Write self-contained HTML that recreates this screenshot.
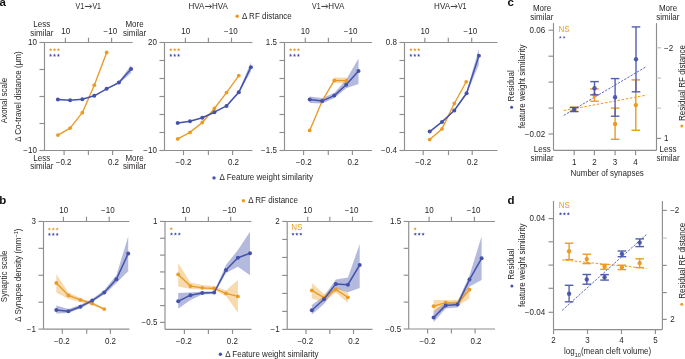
<!DOCTYPE html>
<html><head><meta charset="utf-8"><style>
html,body{margin:0;padding:0;background:#fff;overflow:hidden;}
svg{display:block;font-family:"Liberation Sans",sans-serif;will-change:transform;}
</style></head><body>
<svg width="685" height="359" viewBox="0 0 685 359">
<rect width="685" height="359" fill="#fff"/>
<text transform="translate(-0.5,6.1) scale(1.15,1)" font-size="10" font-weight="bold" fill="#111">a</text>
<text transform="translate(-0.7,204.2) scale(1.15,1)" font-size="10" font-weight="bold" fill="#111">b</text>
<text transform="translate(507.4,6.1) scale(1.15,1)" font-size="10" font-weight="bold" fill="#111">c</text>
<text transform="translate(507.5,204.3) scale(1.15,1)" font-size="10" font-weight="bold" fill="#111">d</text>
<text transform="translate(84.10,8.70) scale(1,1.02)" text-anchor="end" font-size="8.0" fill="#231f20" textLength="8.5" lengthAdjust="spacingAndGlyphs">V1</text>
<text transform="translate(92.40,8.70) scale(1,1.02)" text-anchor="start" font-size="8.0" fill="#231f20" textLength="8.5" lengthAdjust="spacingAndGlyphs">V1</text>
<line x1="84.90" y1="6.45" x2="91.30" y2="6.45" stroke="#231f20" stroke-width="0.9"/>
<path d="M89.80,4.45 L91.70,6.45 L89.80,8.45" fill="none" stroke="#231f20" stroke-width="0.75" stroke-linejoin="miter"/>
<text transform="translate(204.40,8.70) scale(1,1.02)" text-anchor="end" font-size="8.0" fill="#231f20" textLength="15.9" lengthAdjust="spacingAndGlyphs">HVA</text>
<text transform="translate(212.06,8.70) scale(1,1.02)" text-anchor="start" font-size="8.0" fill="#231f20" textLength="15.9" lengthAdjust="spacingAndGlyphs">HVA</text>
<line x1="205.10" y1="6.45" x2="211.20" y2="6.45" stroke="#231f20" stroke-width="0.9"/>
<path d="M209.70,4.45 L211.60,6.45 L209.70,8.45" fill="none" stroke="#231f20" stroke-width="0.75" stroke-linejoin="miter"/>
<text transform="translate(320.50,8.70) scale(1,1.02)" text-anchor="end" font-size="8.0" fill="#231f20" textLength="8.5" lengthAdjust="spacingAndGlyphs">V1</text>
<text transform="translate(328.36,8.70) scale(1,1.02)" text-anchor="start" font-size="8.0" fill="#231f20" textLength="15.9" lengthAdjust="spacingAndGlyphs">HVA</text>
<line x1="321.30" y1="6.45" x2="327.50" y2="6.45" stroke="#231f20" stroke-width="0.9"/>
<path d="M326.00,4.45 L327.90,6.45 L326.00,8.45" fill="none" stroke="#231f20" stroke-width="0.75" stroke-linejoin="miter"/>
<text transform="translate(450.00,8.70) scale(1,1.02)" text-anchor="end" font-size="8.0" fill="#231f20" textLength="15.9" lengthAdjust="spacingAndGlyphs">HVA</text>
<text transform="translate(457.90,8.70) scale(1,1.02)" text-anchor="start" font-size="8.0" fill="#231f20" textLength="8.5" lengthAdjust="spacingAndGlyphs">V1</text>
<line x1="450.70" y1="6.45" x2="456.80" y2="6.45" stroke="#231f20" stroke-width="0.9"/>
<path d="M455.30,4.45 L457.20,6.45 L455.30,8.45" fill="none" stroke="#231f20" stroke-width="0.75" stroke-linejoin="miter"/>
<circle cx="237.2" cy="16.2" r="1.7" fill="#ea9b24"/>
<text transform="translate(242.00,18.50) scale(1,1.02)" text-anchor="start" font-size="8.0" fill="#231f20" >Δ RF distance</text>
<circle cx="214.0" cy="177.9" r="1.7" fill="#4452aa"/>
<text transform="translate(219.60,180.00) scale(1,1.02)" text-anchor="start" font-size="8.0" fill="#231f20" >Δ Feature weight similarity</text>
<line x1="44.50" y1="42.50" x2="44.50" y2="150.50" stroke="#8f8d8f" stroke-width="1.15" />
<line x1="44.50" y1="42.50" x2="132.60" y2="42.50" stroke="#8f8d8f" stroke-width="1.15" />
<line x1="44.50" y1="150.50" x2="132.60" y2="150.50" stroke="#8f8d8f" stroke-width="1.15" />
<line x1="39.50" y1="42.50" x2="44.50" y2="42.50" stroke="#8f8d8f" stroke-width="1.15" />
<line x1="39.50" y1="69.50" x2="44.50" y2="69.50" stroke="#8f8d8f" stroke-width="1.15" />
<line x1="39.50" y1="96.50" x2="44.50" y2="96.50" stroke="#8f8d8f" stroke-width="1.15" />
<line x1="39.50" y1="123.50" x2="44.50" y2="123.50" stroke="#8f8d8f" stroke-width="1.15" />
<line x1="39.50" y1="150.50" x2="44.50" y2="150.50" stroke="#8f8d8f" stroke-width="1.15" />
<text transform="translate(36.90,45.35) scale(1,1.02)" text-anchor="end" font-size="8.0" fill="#231f20" >10</text>
<text transform="translate(36.90,153.35) scale(1,1.02)" text-anchor="end" font-size="8.0" fill="#231f20" >−10</text>
<line x1="65.40" y1="37.70" x2="65.40" y2="42.50" stroke="#8f8d8f" stroke-width="1.15" />
<line x1="88.50" y1="37.70" x2="88.50" y2="42.50" stroke="#8f8d8f" stroke-width="1.15" />
<line x1="111.60" y1="37.70" x2="111.60" y2="42.50" stroke="#8f8d8f" stroke-width="1.15" />
<line x1="64.10" y1="150.50" x2="64.10" y2="155.10" stroke="#8f8d8f" stroke-width="1.15" />
<line x1="88.40" y1="150.50" x2="88.40" y2="155.10" stroke="#8f8d8f" stroke-width="1.15" />
<line x1="112.60" y1="150.50" x2="112.60" y2="155.10" stroke="#8f8d8f" stroke-width="1.15" />
<text transform="translate(65.70,34.40) scale(1,1.02)" text-anchor="middle" font-size="8.0" fill="#231f20" >10</text>
<text transform="translate(110.40,34.40) scale(1,1.02)" text-anchor="middle" font-size="8.0" fill="#231f20" >−10</text>
<text transform="translate(63.60,164.90) scale(1,1.02)" text-anchor="middle" font-size="8.0" fill="#231f20" >−0.2</text>
<text transform="translate(113.50,164.90) scale(1,1.02)" text-anchor="middle" font-size="8.0" fill="#231f20" >0.2</text>
<line x1="164.50" y1="42.50" x2="164.50" y2="150.50" stroke="#8f8d8f" stroke-width="1.15" />
<line x1="164.50" y1="42.50" x2="252.40" y2="42.50" stroke="#8f8d8f" stroke-width="1.15" />
<line x1="164.50" y1="150.50" x2="252.40" y2="150.50" stroke="#8f8d8f" stroke-width="1.15" />
<line x1="159.50" y1="42.50" x2="164.50" y2="42.50" stroke="#8f8d8f" stroke-width="1.15" />
<line x1="159.50" y1="60.50" x2="164.50" y2="60.50" stroke="#8f8d8f" stroke-width="1.15" />
<line x1="159.50" y1="78.50" x2="164.50" y2="78.50" stroke="#8f8d8f" stroke-width="1.15" />
<line x1="159.50" y1="96.50" x2="164.50" y2="96.50" stroke="#8f8d8f" stroke-width="1.15" />
<line x1="159.50" y1="114.50" x2="164.50" y2="114.50" stroke="#8f8d8f" stroke-width="1.15" />
<line x1="159.50" y1="132.50" x2="164.50" y2="132.50" stroke="#8f8d8f" stroke-width="1.15" />
<line x1="159.50" y1="150.50" x2="164.50" y2="150.50" stroke="#8f8d8f" stroke-width="1.15" />
<text transform="translate(156.90,45.35) scale(1,1.02)" text-anchor="end" font-size="8.0" fill="#231f20" >20</text>
<text transform="translate(156.90,153.35) scale(1,1.02)" text-anchor="end" font-size="8.0" fill="#231f20" >−10</text>
<line x1="185.40" y1="37.70" x2="185.40" y2="42.50" stroke="#8f8d8f" stroke-width="1.15" />
<line x1="208.40" y1="37.70" x2="208.40" y2="42.50" stroke="#8f8d8f" stroke-width="1.15" />
<line x1="231.50" y1="37.70" x2="231.50" y2="42.50" stroke="#8f8d8f" stroke-width="1.15" />
<line x1="183.50" y1="150.50" x2="183.50" y2="155.10" stroke="#8f8d8f" stroke-width="1.15" />
<line x1="208.40" y1="150.50" x2="208.40" y2="155.10" stroke="#8f8d8f" stroke-width="1.15" />
<line x1="232.60" y1="150.50" x2="232.60" y2="155.10" stroke="#8f8d8f" stroke-width="1.15" />
<text transform="translate(185.80,34.40) scale(1,1.02)" text-anchor="middle" font-size="8.0" fill="#231f20" >10</text>
<text transform="translate(230.80,34.40) scale(1,1.02)" text-anchor="middle" font-size="8.0" fill="#231f20" >−10</text>
<text transform="translate(183.50,164.90) scale(1,1.02)" text-anchor="middle" font-size="8.0" fill="#231f20" >−0.2</text>
<text transform="translate(233.50,164.90) scale(1,1.02)" text-anchor="middle" font-size="8.0" fill="#231f20" >0.2</text>
<line x1="284.50" y1="42.50" x2="284.50" y2="150.50" stroke="#8f8d8f" stroke-width="1.15" />
<line x1="284.50" y1="42.50" x2="372.10" y2="42.50" stroke="#8f8d8f" stroke-width="1.15" />
<line x1="284.50" y1="150.50" x2="372.10" y2="150.50" stroke="#8f8d8f" stroke-width="1.15" />
<line x1="279.50" y1="42.50" x2="284.50" y2="42.50" stroke="#8f8d8f" stroke-width="1.15" />
<line x1="279.50" y1="60.50" x2="284.50" y2="60.50" stroke="#8f8d8f" stroke-width="1.15" />
<line x1="279.50" y1="78.50" x2="284.50" y2="78.50" stroke="#8f8d8f" stroke-width="1.15" />
<line x1="279.50" y1="96.50" x2="284.50" y2="96.50" stroke="#8f8d8f" stroke-width="1.15" />
<line x1="279.50" y1="114.50" x2="284.50" y2="114.50" stroke="#8f8d8f" stroke-width="1.15" />
<line x1="279.50" y1="132.50" x2="284.50" y2="132.50" stroke="#8f8d8f" stroke-width="1.15" />
<line x1="279.50" y1="150.50" x2="284.50" y2="150.50" stroke="#8f8d8f" stroke-width="1.15" />
<text transform="translate(276.90,45.35) scale(1,1.02)" text-anchor="end" font-size="8.0" fill="#231f20" >1.5</text>
<text transform="translate(276.90,153.35) scale(1,1.02)" text-anchor="end" font-size="8.0" fill="#231f20" >−1.5</text>
<line x1="305.30" y1="37.70" x2="305.30" y2="42.50" stroke="#8f8d8f" stroke-width="1.15" />
<line x1="328.40" y1="37.70" x2="328.40" y2="42.50" stroke="#8f8d8f" stroke-width="1.15" />
<line x1="351.40" y1="37.70" x2="351.40" y2="42.50" stroke="#8f8d8f" stroke-width="1.15" />
<line x1="303.60" y1="150.50" x2="303.60" y2="155.10" stroke="#8f8d8f" stroke-width="1.15" />
<line x1="328.30" y1="150.50" x2="328.30" y2="155.10" stroke="#8f8d8f" stroke-width="1.15" />
<line x1="352.40" y1="150.50" x2="352.40" y2="155.10" stroke="#8f8d8f" stroke-width="1.15" />
<text transform="translate(305.30,34.40) scale(1,1.02)" text-anchor="middle" font-size="8.0" fill="#231f20" >10</text>
<text transform="translate(350.60,34.40) scale(1,1.02)" text-anchor="middle" font-size="8.0" fill="#231f20" >−10</text>
<text transform="translate(303.70,164.90) scale(1,1.02)" text-anchor="middle" font-size="8.0" fill="#231f20" >−0.2</text>
<text transform="translate(353.10,164.90) scale(1,1.02)" text-anchor="middle" font-size="8.0" fill="#231f20" >0.2</text>
<line x1="404.50" y1="42.50" x2="404.50" y2="150.50" stroke="#8f8d8f" stroke-width="1.15" />
<line x1="404.50" y1="42.50" x2="497.50" y2="42.50" stroke="#8f8d8f" stroke-width="1.15" />
<line x1="404.50" y1="150.50" x2="497.50" y2="150.50" stroke="#8f8d8f" stroke-width="1.15" />
<line x1="399.50" y1="42.50" x2="404.50" y2="42.50" stroke="#8f8d8f" stroke-width="1.15" />
<line x1="399.50" y1="60.50" x2="404.50" y2="60.50" stroke="#8f8d8f" stroke-width="1.15" />
<line x1="399.50" y1="78.50" x2="404.50" y2="78.50" stroke="#8f8d8f" stroke-width="1.15" />
<line x1="399.50" y1="96.50" x2="404.50" y2="96.50" stroke="#8f8d8f" stroke-width="1.15" />
<line x1="399.50" y1="114.50" x2="404.50" y2="114.50" stroke="#8f8d8f" stroke-width="1.15" />
<line x1="399.50" y1="132.50" x2="404.50" y2="132.50" stroke="#8f8d8f" stroke-width="1.15" />
<line x1="399.50" y1="150.50" x2="404.50" y2="150.50" stroke="#8f8d8f" stroke-width="1.15" />
<text transform="translate(396.90,45.35) scale(1,1.02)" text-anchor="end" font-size="8.0" fill="#231f20" >0.8</text>
<text transform="translate(396.90,153.35) scale(1,1.02)" text-anchor="end" font-size="8.0" fill="#231f20" >−0.4</text>
<line x1="424.80" y1="37.70" x2="424.80" y2="42.50" stroke="#8f8d8f" stroke-width="1.15" />
<line x1="448.30" y1="37.70" x2="448.30" y2="42.50" stroke="#8f8d8f" stroke-width="1.15" />
<line x1="471.70" y1="37.70" x2="471.70" y2="42.50" stroke="#8f8d8f" stroke-width="1.15" />
<line x1="423.20" y1="150.50" x2="423.20" y2="155.10" stroke="#8f8d8f" stroke-width="1.15" />
<line x1="448.50" y1="150.50" x2="448.50" y2="155.10" stroke="#8f8d8f" stroke-width="1.15" />
<line x1="472.20" y1="150.50" x2="472.20" y2="155.10" stroke="#8f8d8f" stroke-width="1.15" />
<text transform="translate(425.00,34.40) scale(1,1.02)" text-anchor="middle" font-size="8.0" fill="#231f20" >10</text>
<text transform="translate(470.40,34.40) scale(1,1.02)" text-anchor="middle" font-size="8.0" fill="#231f20" >−10</text>
<text transform="translate(423.20,164.90) scale(1,1.02)" text-anchor="middle" font-size="8.0" fill="#231f20" >−0.2</text>
<text transform="translate(472.50,164.90) scale(1,1.02)" text-anchor="middle" font-size="8.0" fill="#231f20" >0.2</text>
<text transform="translate(41.80,26.80) scale(1,1.02)" text-anchor="middle" font-size="8.0" fill="#231f20" >Less</text>
<text transform="translate(41.80,35.50) scale(1,1.02)" text-anchor="middle" font-size="8.0" fill="#231f20" >similar</text>
<text transform="translate(134.50,26.80) scale(1,1.02)" text-anchor="middle" font-size="8.0" fill="#231f20" >More</text>
<text transform="translate(134.50,35.50) scale(1,1.02)" text-anchor="middle" font-size="8.0" fill="#231f20" >similar</text>
<text transform="translate(41.80,160.60) scale(1,1.02)" text-anchor="middle" font-size="8.0" fill="#231f20" >Less</text>
<text transform="translate(41.80,169.20) scale(1,1.02)" text-anchor="middle" font-size="8.0" fill="#231f20" >similar</text>
<text transform="translate(134.50,160.60) scale(1,1.02)" text-anchor="middle" font-size="8.0" fill="#231f20" >More</text>
<text transform="translate(134.50,169.20) scale(1,1.02)" text-anchor="middle" font-size="8.0" fill="#231f20" >similar</text>
<text transform="translate(6.60,100.50) rotate(-90) scale(1,1.02)" text-anchor="middle" font-size="8.0" fill="#231f20" >Axonal scale</text>
<text transform="translate(20.90,96.60) rotate(-90) scale(1,1.02)" text-anchor="middle" font-size="8.0" fill="#231f20" >Δ Co-travel distance (μm)</text>
<text transform="translate(6.60,276.40) rotate(-90) scale(1,1.02)" text-anchor="middle" font-size="8.0" fill="#231f20" >Synaptic scale</text>
<text transform="translate(20.90,275.10) rotate(-90) scale(1,1.02)" text-anchor="middle" font-size="8.0" fill="#231f20" >Δ Synapse density (mm<tspan dy="-2.5" font-size="5.6">−1</tspan><tspan dy="2.5">)</tspan></text>
<polygon points="50.60,48.00 51.06,49.12 52.26,49.21 51.34,49.99 51.63,51.17 50.60,50.53 49.57,51.17 49.86,49.99 48.94,49.21 50.14,49.12" fill="#ea9b24"/>
<polygon points="54.50,48.00 54.96,49.12 56.16,49.21 55.24,49.99 55.53,51.17 54.50,50.53 53.47,51.17 53.76,49.99 52.84,49.21 54.04,49.12" fill="#ea9b24"/>
<polygon points="58.40,48.00 58.86,49.12 60.06,49.21 59.14,49.99 59.43,51.17 58.40,50.53 57.37,51.17 57.66,49.99 56.74,49.21 57.94,49.12" fill="#ea9b24"/>
<polygon points="50.60,53.60 51.06,54.72 52.26,54.81 51.34,55.59 51.63,56.77 50.60,56.13 49.57,56.77 49.86,55.59 48.94,54.81 50.14,54.72" fill="#4452aa"/>
<polygon points="54.50,53.60 54.96,54.72 56.16,54.81 55.24,55.59 55.53,56.77 54.50,56.13 53.47,56.77 53.76,55.59 52.84,54.81 54.04,54.72" fill="#4452aa"/>
<polygon points="58.40,53.60 58.86,54.72 60.06,54.81 59.14,55.59 59.43,56.77 58.40,56.13 57.37,56.77 57.66,55.59 56.74,54.81 57.94,54.72" fill="#4452aa"/>
<polygon points="170.80,48.00 171.26,49.12 172.46,49.21 171.54,49.99 171.83,51.17 170.80,50.53 169.77,51.17 170.06,49.99 169.14,49.21 170.34,49.12" fill="#ea9b24"/>
<polygon points="174.70,48.00 175.16,49.12 176.36,49.21 175.44,49.99 175.73,51.17 174.70,50.53 173.67,51.17 173.96,49.99 173.04,49.21 174.24,49.12" fill="#ea9b24"/>
<polygon points="178.60,48.00 179.06,49.12 180.26,49.21 179.34,49.99 179.63,51.17 178.60,50.53 177.57,51.17 177.86,49.99 176.94,49.21 178.14,49.12" fill="#ea9b24"/>
<polygon points="170.80,53.60 171.26,54.72 172.46,54.81 171.54,55.59 171.83,56.77 170.80,56.13 169.77,56.77 170.06,55.59 169.14,54.81 170.34,54.72" fill="#4452aa"/>
<polygon points="174.70,53.60 175.16,54.72 176.36,54.81 175.44,55.59 175.73,56.77 174.70,56.13 173.67,56.77 173.96,55.59 173.04,54.81 174.24,54.72" fill="#4452aa"/>
<polygon points="178.60,53.60 179.06,54.72 180.26,54.81 179.34,55.59 179.63,56.77 178.60,56.13 177.57,56.77 177.86,55.59 176.94,54.81 178.14,54.72" fill="#4452aa"/>
<polygon points="290.60,48.00 291.06,49.12 292.26,49.21 291.34,49.99 291.63,51.17 290.60,50.53 289.57,51.17 289.86,49.99 288.94,49.21 290.14,49.12" fill="#ea9b24"/>
<polygon points="294.50,48.00 294.96,49.12 296.16,49.21 295.24,49.99 295.53,51.17 294.50,50.53 293.47,51.17 293.76,49.99 292.84,49.21 294.04,49.12" fill="#ea9b24"/>
<polygon points="298.40,48.00 298.86,49.12 300.06,49.21 299.14,49.99 299.43,51.17 298.40,50.53 297.37,51.17 297.66,49.99 296.74,49.21 297.94,49.12" fill="#ea9b24"/>
<polygon points="290.60,53.60 291.06,54.72 292.26,54.81 291.34,55.59 291.63,56.77 290.60,56.13 289.57,56.77 289.86,55.59 288.94,54.81 290.14,54.72" fill="#4452aa"/>
<polygon points="294.50,53.60 294.96,54.72 296.16,54.81 295.24,55.59 295.53,56.77 294.50,56.13 293.47,56.77 293.76,55.59 292.84,54.81 294.04,54.72" fill="#4452aa"/>
<polygon points="298.40,53.60 298.86,54.72 300.06,54.81 299.14,55.59 299.43,56.77 298.40,56.13 297.37,56.77 297.66,55.59 296.74,54.81 297.94,54.72" fill="#4452aa"/>
<polygon points="410.90,48.00 411.36,49.12 412.56,49.21 411.64,49.99 411.93,51.17 410.90,50.53 409.87,51.17 410.16,49.99 409.24,49.21 410.44,49.12" fill="#ea9b24"/>
<polygon points="414.80,48.00 415.26,49.12 416.46,49.21 415.54,49.99 415.83,51.17 414.80,50.53 413.77,51.17 414.06,49.99 413.14,49.21 414.34,49.12" fill="#ea9b24"/>
<polygon points="418.70,48.00 419.16,49.12 420.36,49.21 419.44,49.99 419.73,51.17 418.70,50.53 417.67,51.17 417.96,49.99 417.04,49.21 418.24,49.12" fill="#ea9b24"/>
<polygon points="410.90,53.60 411.36,54.72 412.56,54.81 411.64,55.59 411.93,56.77 410.90,56.13 409.87,56.77 410.16,55.59 409.24,54.81 410.44,54.72" fill="#4452aa"/>
<polygon points="414.80,53.60 415.26,54.72 416.46,54.81 415.54,55.59 415.83,56.77 414.80,56.13 413.77,56.77 414.06,55.59 413.14,54.81 414.34,54.72" fill="#4452aa"/>
<polygon points="418.70,53.60 419.16,54.72 420.36,54.81 419.44,55.59 419.73,56.77 418.70,56.13 417.67,56.77 417.96,55.59 417.04,54.81 418.24,54.72" fill="#4452aa"/>
<polygon points="106.60,88.30 118.90,81.40 131.10,65.00 131.10,73.00 118.90,83.80 106.60,89.30" fill="#4452aa" fill-opacity="0.4"/>
<polygon points="226.50,105.30 238.80,91.10 250.90,62.50 250.90,71.50 238.80,93.50 226.50,106.50" fill="#4452aa" fill-opacity="0.4"/>
<polygon points="309.70,96.50 322.20,98.00 334.30,93.00 346.20,79.50 358.50,58.40 358.50,83.90 346.20,88.20 334.30,98.00 322.20,103.50 309.70,103.00" fill="#4452aa" fill-opacity="0.4"/>
<polygon points="334.30,77.50 346.60,77.50 346.60,83.50 334.30,83.00" fill="#ea9b24" fill-opacity="0.37"/>
<polygon points="454.30,110.00 466.60,91.50 478.90,48.80 478.90,64.60 466.60,94.50 454.30,111.00" fill="#4452aa" fill-opacity="0.4"/>
<polyline points="57.90,135.10 70.10,128.10 82.30,112.70 94.30,85.20 106.70,52.40" fill="none" stroke="#ea9b24" stroke-width="1.35" stroke-linejoin="round"/>
<circle cx="57.90" cy="135.10" r="1.9" fill="#ea9b24"/>
<circle cx="70.10" cy="128.10" r="1.9" fill="#ea9b24"/>
<circle cx="82.30" cy="112.70" r="1.9" fill="#ea9b24"/>
<circle cx="94.30" cy="85.20" r="1.9" fill="#ea9b24"/>
<circle cx="106.70" cy="52.40" r="1.9" fill="#ea9b24"/>
<polyline points="57.90,99.50 70.10,100.20 82.30,99.20 94.30,95.80 106.60,88.80 118.90,82.60 131.10,69.10" fill="none" stroke="#4452aa" stroke-width="1.5" stroke-linejoin="round"/>
<circle cx="57.90" cy="99.50" r="2.0" fill="#4452aa"/>
<circle cx="70.10" cy="100.20" r="2.0" fill="#4452aa"/>
<circle cx="82.30" cy="99.20" r="2.0" fill="#4452aa"/>
<circle cx="94.30" cy="95.80" r="2.0" fill="#4452aa"/>
<circle cx="106.60" cy="88.80" r="2.0" fill="#4452aa"/>
<circle cx="118.90" cy="82.60" r="2.0" fill="#4452aa"/>
<circle cx="131.10" cy="69.10" r="2.0" fill="#4452aa"/>
<polyline points="177.70,138.90 190.00,132.40 202.30,122.50 214.40,108.50 226.50,92.60 238.80,75.60" fill="none" stroke="#ea9b24" stroke-width="1.35" stroke-linejoin="round"/>
<circle cx="177.70" cy="138.90" r="1.9" fill="#ea9b24"/>
<circle cx="190.00" cy="132.40" r="1.9" fill="#ea9b24"/>
<circle cx="202.30" cy="122.50" r="1.9" fill="#ea9b24"/>
<circle cx="214.40" cy="108.50" r="1.9" fill="#ea9b24"/>
<circle cx="226.50" cy="92.60" r="1.9" fill="#ea9b24"/>
<circle cx="238.80" cy="75.60" r="1.9" fill="#ea9b24"/>
<polyline points="177.70,123.10 190.00,121.30 202.30,117.80 214.40,112.20 226.50,105.90 238.80,92.30 250.90,67.20" fill="none" stroke="#4452aa" stroke-width="1.5" stroke-linejoin="round"/>
<circle cx="177.70" cy="123.10" r="2.0" fill="#4452aa"/>
<circle cx="190.00" cy="121.30" r="2.0" fill="#4452aa"/>
<circle cx="202.30" cy="117.80" r="2.0" fill="#4452aa"/>
<circle cx="214.40" cy="112.20" r="2.0" fill="#4452aa"/>
<circle cx="226.50" cy="105.90" r="2.0" fill="#4452aa"/>
<circle cx="238.80" cy="92.30" r="2.0" fill="#4452aa"/>
<circle cx="250.90" cy="67.20" r="2.0" fill="#4452aa"/>
<polyline points="309.70,130.40 322.20,100.90 334.30,80.40 346.60,80.70" fill="none" stroke="#ea9b24" stroke-width="1.35" stroke-linejoin="round"/>
<circle cx="309.70" cy="130.40" r="1.9" fill="#ea9b24"/>
<circle cx="322.20" cy="100.90" r="1.9" fill="#ea9b24"/>
<circle cx="334.30" cy="80.40" r="1.9" fill="#ea9b24"/>
<circle cx="346.60" cy="80.70" r="1.9" fill="#ea9b24"/>
<polyline points="309.70,99.60 322.20,100.90 334.30,95.60 346.20,84.70 358.50,71.10" fill="none" stroke="#4452aa" stroke-width="1.5" stroke-linejoin="round"/>
<circle cx="309.70" cy="99.60" r="2.0" fill="#4452aa"/>
<circle cx="322.20" cy="100.90" r="2.0" fill="#4452aa"/>
<circle cx="334.30" cy="95.60" r="2.0" fill="#4452aa"/>
<circle cx="346.20" cy="84.70" r="2.0" fill="#4452aa"/>
<circle cx="358.50" cy="71.10" r="2.0" fill="#4452aa"/>
<polyline points="429.70,139.60 442.00,128.90 454.30,103.50 466.20,81.80" fill="none" stroke="#ea9b24" stroke-width="1.35" stroke-linejoin="round"/>
<circle cx="429.70" cy="139.60" r="1.9" fill="#ea9b24"/>
<circle cx="442.00" cy="128.90" r="1.9" fill="#ea9b24"/>
<circle cx="454.30" cy="103.50" r="1.9" fill="#ea9b24"/>
<circle cx="466.20" cy="81.80" r="1.9" fill="#ea9b24"/>
<polyline points="429.70,131.60 442.00,121.90 454.30,110.50 466.60,93.20 478.90,55.80" fill="none" stroke="#4452aa" stroke-width="1.5" stroke-linejoin="round"/>
<circle cx="429.70" cy="131.60" r="2.0" fill="#4452aa"/>
<circle cx="442.00" cy="121.90" r="2.0" fill="#4452aa"/>
<circle cx="454.30" cy="110.50" r="2.0" fill="#4452aa"/>
<circle cx="466.60" cy="93.20" r="2.0" fill="#4452aa"/>
<circle cx="478.90" cy="55.80" r="2.0" fill="#4452aa"/>
<circle cx="243.4" cy="200.7" r="1.7" fill="#ea9b24"/>
<text transform="translate(248.20,202.70) scale(1,1.02)" text-anchor="start" font-size="8.0" fill="#231f20" >Δ RF distance</text>
<circle cx="220.4" cy="354.2" r="1.7" fill="#4452aa"/>
<text transform="translate(225.20,356.90) scale(1,1.02)" text-anchor="start" font-size="8.0" fill="#231f20" >Δ Feature weight similarity</text>
<line x1="43.50" y1="221.45" x2="43.50" y2="329.10" stroke="#8f8d8f" stroke-width="1.15" />
<line x1="43.50" y1="221.45" x2="129.40" y2="221.45" stroke="#8f8d8f" stroke-width="1.15" />
<line x1="43.50" y1="329.10" x2="129.40" y2="329.10" stroke="#8f8d8f" stroke-width="1.15" />
<line x1="38.50" y1="221.45" x2="43.50" y2="221.45" stroke="#8f8d8f" stroke-width="1.15" />
<line x1="38.50" y1="248.36" x2="43.50" y2="248.36" stroke="#8f8d8f" stroke-width="1.15" />
<line x1="38.50" y1="275.27" x2="43.50" y2="275.27" stroke="#8f8d8f" stroke-width="1.15" />
<line x1="38.50" y1="302.19" x2="43.50" y2="302.19" stroke="#8f8d8f" stroke-width="1.15" />
<line x1="38.50" y1="329.10" x2="43.50" y2="329.10" stroke="#8f8d8f" stroke-width="1.15" />
<text transform="translate(35.90,224.30) scale(1,1.02)" text-anchor="end" font-size="8.0" fill="#231f20" >3</text>
<text transform="translate(35.90,331.95) scale(1,1.02)" text-anchor="end" font-size="8.0" fill="#231f20" >−1</text>
<line x1="63.40" y1="216.65" x2="63.40" y2="221.45" stroke="#8f8d8f" stroke-width="1.15" />
<line x1="86.50" y1="216.65" x2="86.50" y2="221.45" stroke="#8f8d8f" stroke-width="1.15" />
<line x1="109.20" y1="216.65" x2="109.20" y2="221.45" stroke="#8f8d8f" stroke-width="1.15" />
<line x1="62.30" y1="329.10" x2="62.30" y2="333.70" stroke="#8f8d8f" stroke-width="1.15" />
<line x1="86.70" y1="329.10" x2="86.70" y2="333.70" stroke="#8f8d8f" stroke-width="1.15" />
<line x1="110.40" y1="329.10" x2="110.40" y2="333.70" stroke="#8f8d8f" stroke-width="1.15" />
<text transform="translate(63.80,213.00) scale(1,1.02)" text-anchor="middle" font-size="8.0" fill="#231f20" >10</text>
<text transform="translate(107.80,213.00) scale(1,1.02)" text-anchor="middle" font-size="8.0" fill="#231f20" >−10</text>
<text transform="translate(61.80,343.80) scale(1,1.02)" text-anchor="middle" font-size="8.0" fill="#231f20" >−0.2</text>
<text transform="translate(110.50,343.80) scale(1,1.02)" text-anchor="middle" font-size="8.0" fill="#231f20" >0.2</text>
<line x1="165.00" y1="221.45" x2="165.00" y2="329.30" stroke="#8f8d8f" stroke-width="1.15" />
<line x1="165.00" y1="221.45" x2="251.40" y2="221.45" stroke="#8f8d8f" stroke-width="1.15" />
<line x1="165.00" y1="329.30" x2="251.40" y2="329.30" stroke="#8f8d8f" stroke-width="1.15" />
<line x1="160.00" y1="221.45" x2="165.00" y2="221.45" stroke="#8f8d8f" stroke-width="1.15" />
<line x1="160.00" y1="238.27" x2="165.00" y2="238.27" stroke="#8f8d8f" stroke-width="1.15" />
<line x1="160.00" y1="255.10" x2="165.00" y2="255.10" stroke="#8f8d8f" stroke-width="1.15" />
<line x1="160.00" y1="271.92" x2="165.00" y2="271.92" stroke="#8f8d8f" stroke-width="1.15" />
<line x1="160.00" y1="288.75" x2="165.00" y2="288.75" stroke="#8f8d8f" stroke-width="1.15" />
<line x1="160.00" y1="305.57" x2="165.00" y2="305.57" stroke="#8f8d8f" stroke-width="1.15" />
<line x1="160.00" y1="322.40" x2="165.00" y2="322.40" stroke="#8f8d8f" stroke-width="1.15" />
<text transform="translate(157.40,224.30) scale(1,1.02)" text-anchor="end" font-size="8.0" fill="#231f20" >1</text>
<text transform="translate(157.40,325.25) scale(1,1.02)" text-anchor="end" font-size="8.0" fill="#231f20" >−0.5</text>
<line x1="185.60" y1="216.65" x2="185.60" y2="221.45" stroke="#8f8d8f" stroke-width="1.15" />
<line x1="208.40" y1="216.65" x2="208.40" y2="221.45" stroke="#8f8d8f" stroke-width="1.15" />
<line x1="230.70" y1="216.65" x2="230.70" y2="221.45" stroke="#8f8d8f" stroke-width="1.15" />
<line x1="184.40" y1="329.30" x2="184.40" y2="333.90" stroke="#8f8d8f" stroke-width="1.15" />
<line x1="208.40" y1="329.30" x2="208.40" y2="333.90" stroke="#8f8d8f" stroke-width="1.15" />
<line x1="232.50" y1="329.30" x2="232.50" y2="333.90" stroke="#8f8d8f" stroke-width="1.15" />
<text transform="translate(185.80,213.00) scale(1,1.02)" text-anchor="middle" font-size="8.0" fill="#231f20" >10</text>
<text transform="translate(229.50,213.00) scale(1,1.02)" text-anchor="middle" font-size="8.0" fill="#231f20" >−10</text>
<text transform="translate(183.70,343.80) scale(1,1.02)" text-anchor="middle" font-size="8.0" fill="#231f20" >−0.2</text>
<text transform="translate(232.40,343.80) scale(1,1.02)" text-anchor="middle" font-size="8.0" fill="#231f20" >0.2</text>
<line x1="287.20" y1="221.45" x2="287.20" y2="329.40" stroke="#8f8d8f" stroke-width="1.15" />
<line x1="287.20" y1="221.45" x2="372.50" y2="221.45" stroke="#8f8d8f" stroke-width="1.15" />
<line x1="287.20" y1="329.40" x2="372.50" y2="329.40" stroke="#8f8d8f" stroke-width="1.15" />
<line x1="282.20" y1="221.45" x2="287.20" y2="221.45" stroke="#8f8d8f" stroke-width="1.15" />
<line x1="282.20" y1="239.44" x2="287.20" y2="239.44" stroke="#8f8d8f" stroke-width="1.15" />
<line x1="282.20" y1="257.43" x2="287.20" y2="257.43" stroke="#8f8d8f" stroke-width="1.15" />
<line x1="282.20" y1="275.42" x2="287.20" y2="275.42" stroke="#8f8d8f" stroke-width="1.15" />
<line x1="282.20" y1="293.42" x2="287.20" y2="293.42" stroke="#8f8d8f" stroke-width="1.15" />
<line x1="282.20" y1="311.41" x2="287.20" y2="311.41" stroke="#8f8d8f" stroke-width="1.15" />
<line x1="282.20" y1="329.40" x2="287.20" y2="329.40" stroke="#8f8d8f" stroke-width="1.15" />
<text transform="translate(279.60,224.30) scale(1,1.02)" text-anchor="end" font-size="8.0" fill="#231f20" >2</text>
<text transform="translate(279.60,332.25) scale(1,1.02)" text-anchor="end" font-size="8.0" fill="#231f20" >−1</text>
<line x1="307.70" y1="216.65" x2="307.70" y2="221.45" stroke="#8f8d8f" stroke-width="1.15" />
<line x1="329.80" y1="216.65" x2="329.80" y2="221.45" stroke="#8f8d8f" stroke-width="1.15" />
<line x1="352.50" y1="216.65" x2="352.50" y2="221.45" stroke="#8f8d8f" stroke-width="1.15" />
<line x1="306.00" y1="329.40" x2="306.00" y2="334.00" stroke="#8f8d8f" stroke-width="1.15" />
<line x1="329.80" y1="329.40" x2="329.80" y2="334.00" stroke="#8f8d8f" stroke-width="1.15" />
<line x1="353.50" y1="329.40" x2="353.50" y2="334.00" stroke="#8f8d8f" stroke-width="1.15" />
<text transform="translate(307.80,213.00) scale(1,1.02)" text-anchor="middle" font-size="8.0" fill="#231f20" >10</text>
<text transform="translate(351.60,213.00) scale(1,1.02)" text-anchor="middle" font-size="8.0" fill="#231f20" >−10</text>
<text transform="translate(305.30,343.80) scale(1,1.02)" text-anchor="middle" font-size="8.0" fill="#231f20" >−0.2</text>
<text transform="translate(353.80,343.80) scale(1,1.02)" text-anchor="middle" font-size="8.0" fill="#231f20" >0.2</text>
<line x1="408.70" y1="221.45" x2="408.70" y2="329.00" stroke="#8f8d8f" stroke-width="1.15" />
<line x1="408.70" y1="221.45" x2="495.00" y2="221.45" stroke="#8f8d8f" stroke-width="1.15" />
<line x1="408.70" y1="329.00" x2="495.00" y2="329.00" stroke="#8f8d8f" stroke-width="1.15" />
<line x1="403.70" y1="221.45" x2="408.70" y2="221.45" stroke="#8f8d8f" stroke-width="1.15" />
<line x1="403.70" y1="248.34" x2="408.70" y2="248.34" stroke="#8f8d8f" stroke-width="1.15" />
<line x1="403.70" y1="275.23" x2="408.70" y2="275.23" stroke="#8f8d8f" stroke-width="1.15" />
<line x1="403.70" y1="302.11" x2="408.70" y2="302.11" stroke="#8f8d8f" stroke-width="1.15" />
<line x1="403.70" y1="329.00" x2="408.70" y2="329.00" stroke="#8f8d8f" stroke-width="1.15" />
<text transform="translate(401.10,224.30) scale(1,1.02)" text-anchor="end" font-size="8.0" fill="#231f20" >1.5</text>
<text transform="translate(401.10,331.85) scale(1,1.02)" text-anchor="end" font-size="8.0" fill="#231f20" >−0.5</text>
<line x1="429.10" y1="216.65" x2="429.10" y2="221.45" stroke="#8f8d8f" stroke-width="1.15" />
<line x1="451.40" y1="216.65" x2="451.40" y2="221.45" stroke="#8f8d8f" stroke-width="1.15" />
<line x1="474.40" y1="216.65" x2="474.40" y2="221.45" stroke="#8f8d8f" stroke-width="1.15" />
<line x1="427.60" y1="329.00" x2="427.60" y2="333.60" stroke="#8f8d8f" stroke-width="1.15" />
<line x1="451.40" y1="329.00" x2="451.40" y2="333.60" stroke="#8f8d8f" stroke-width="1.15" />
<line x1="475.10" y1="329.00" x2="475.10" y2="333.60" stroke="#8f8d8f" stroke-width="1.15" />
<text transform="translate(429.20,213.00) scale(1,1.02)" text-anchor="middle" font-size="8.0" fill="#231f20" >10</text>
<text transform="translate(473.60,213.00) scale(1,1.02)" text-anchor="middle" font-size="8.0" fill="#231f20" >−10</text>
<text transform="translate(427.50,343.80) scale(1,1.02)" text-anchor="middle" font-size="8.0" fill="#231f20" >−0.2</text>
<text transform="translate(476.00,343.80) scale(1,1.02)" text-anchor="middle" font-size="8.0" fill="#231f20" >0.2</text>
<polygon points="49.40,227.30 49.86,228.42 51.06,228.51 50.14,229.29 50.43,230.47 49.40,229.83 48.37,230.47 48.66,229.29 47.74,228.51 48.94,228.42" fill="#ea9b24"/>
<polygon points="53.30,227.30 53.76,228.42 54.96,228.51 54.04,229.29 54.33,230.47 53.30,229.83 52.27,230.47 52.56,229.29 51.64,228.51 52.84,228.42" fill="#ea9b24"/>
<polygon points="57.20,227.30 57.66,228.42 58.86,228.51 57.94,229.29 58.23,230.47 57.20,229.83 56.17,230.47 56.46,229.29 55.54,228.51 56.74,228.42" fill="#ea9b24"/>
<polygon points="49.40,232.60 49.86,233.72 51.06,233.81 50.14,234.59 50.43,235.77 49.40,235.13 48.37,235.77 48.66,234.59 47.74,233.81 48.94,233.72" fill="#4452aa"/>
<polygon points="53.30,232.60 53.76,233.72 54.96,233.81 54.04,234.59 54.33,235.77 53.30,235.13 52.27,235.77 52.56,234.59 51.64,233.81 52.84,233.72" fill="#4452aa"/>
<polygon points="57.20,232.60 57.66,233.72 58.86,233.81 57.94,234.59 58.23,235.77 57.20,235.13 56.17,235.77 56.46,234.59 55.54,233.81 56.74,233.72" fill="#4452aa"/>
<polygon points="171.30,227.00 171.76,228.12 172.96,228.21 172.04,228.99 172.33,230.17 171.30,229.53 170.27,230.17 170.56,228.99 169.64,228.21 170.84,228.12" fill="#ea9b24"/>
<polygon points="171.50,232.30 171.96,233.42 173.16,233.51 172.24,234.29 172.53,235.47 171.50,234.83 170.47,235.47 170.76,234.29 169.84,233.51 171.04,233.42" fill="#4452aa"/>
<polygon points="175.40,232.30 175.86,233.42 177.06,233.51 176.14,234.29 176.43,235.47 175.40,234.83 174.37,235.47 174.66,234.29 173.74,233.51 174.94,233.42" fill="#4452aa"/>
<polygon points="179.30,232.30 179.76,233.42 180.96,233.51 180.04,234.29 180.33,235.47 179.30,234.83 178.27,235.47 178.56,234.29 177.64,233.51 178.84,233.42" fill="#4452aa"/>
<text transform="translate(291.30,229.70) scale(1,1.02)" text-anchor="start" font-size="8.0" fill="#ea9b24" >NS</text>
<polygon points="293.00,232.40 293.46,233.52 294.66,233.61 293.74,234.39 294.03,235.57 293.00,234.93 291.97,235.57 292.26,234.39 291.34,233.61 292.54,233.52" fill="#4452aa"/>
<polygon points="296.90,232.40 297.36,233.52 298.56,233.61 297.64,234.39 297.93,235.57 296.90,234.93 295.87,235.57 296.16,234.39 295.24,233.61 296.44,233.52" fill="#4452aa"/>
<polygon points="300.80,232.40 301.26,233.52 302.46,233.61 301.54,234.39 301.83,235.57 300.80,234.93 299.77,235.57 300.06,234.39 299.14,233.61 300.34,233.52" fill="#4452aa"/>
<polygon points="415.20,227.10 415.66,228.22 416.86,228.31 415.94,229.09 416.23,230.27 415.20,229.63 414.17,230.27 414.46,229.09 413.54,228.31 414.74,228.22" fill="#ea9b24"/>
<polygon points="415.30,232.40 415.76,233.52 416.96,233.61 416.04,234.39 416.33,235.57 415.30,234.93 414.27,235.57 414.56,234.39 413.64,233.61 414.84,233.52" fill="#4452aa"/>
<polygon points="419.20,232.40 419.66,233.52 420.86,233.61 419.94,234.39 420.23,235.57 419.20,234.93 418.17,235.57 418.46,234.39 417.54,233.61 418.74,233.52" fill="#4452aa"/>
<polygon points="423.10,232.40 423.56,233.52 424.76,233.61 423.84,234.39 424.13,235.57 423.10,234.93 422.07,235.57 422.36,234.39 421.44,233.61 422.64,233.52" fill="#4452aa"/>
<polygon points="56.30,305.50 68.40,309.00 80.40,304.80 92.20,299.00 104.30,290.00 116.40,275.20 128.20,236.50 128.20,271.20 116.40,283.00 104.30,294.50 92.20,302.00 80.40,308.50 68.40,313.00 56.30,313.50" fill="#4452aa" fill-opacity="0.4"/>
<polygon points="56.30,274.10 68.40,292.50 80.40,298.00 92.20,302.00 104.30,308.00 104.30,310.20 92.20,305.00 80.40,302.00 68.40,299.00 56.30,292.50" fill="#ea9b24" fill-opacity="0.37"/>
<polygon points="178.20,293.10 190.40,292.50 202.30,291.50 214.20,291.50 226.00,265.00 237.90,250.00 250.00,231.80 250.00,275.30 237.90,266.80 226.00,273.00 214.20,294.00 202.30,294.50 190.40,300.00 178.20,308.70" fill="#4452aa" fill-opacity="0.4"/>
<polygon points="178.20,263.00 190.40,282.50 202.30,285.00 214.20,286.00 226.00,290.40 237.90,279.90 237.90,312.70 226.00,296.00 214.20,290.00 202.30,289.50 190.40,289.00 178.20,286.40" fill="#ea9b24" fill-opacity="0.37"/>
<polygon points="311.80,304.90 324.00,296.00 335.80,279.60 347.90,277.50 359.70,244.00 359.70,288.00 347.90,292.30 335.80,288.80 324.00,304.00 311.80,314.60" fill="#4452aa" fill-opacity="0.4"/>
<polygon points="311.80,283.10 324.00,294.00 335.80,286.80 347.90,292.50 347.90,303.00 335.80,292.50 324.00,302.00 311.80,298.50" fill="#ea9b24" fill-opacity="0.37"/>
<polygon points="433.60,311.50 445.70,302.30 457.50,301.50 469.50,275.50 481.60,236.20 481.60,280.00 469.50,286.50 457.50,307.50 445.70,308.50 433.60,322.30" fill="#4452aa" fill-opacity="0.4"/>
<polygon points="433.60,299.90 445.70,300.00 457.50,299.90 469.50,286.00 469.50,298.60 457.50,306.30 445.70,305.50 433.60,312.30" fill="#ea9b24" fill-opacity="0.37"/>
<polyline points="56.30,283.00 68.40,295.40 80.40,299.90 92.20,303.50 104.30,309.10" fill="none" stroke="#ea9b24" stroke-width="1.35" stroke-linejoin="round"/>
<circle cx="56.30" cy="283.00" r="1.9" fill="#ea9b24"/>
<circle cx="68.40" cy="295.40" r="1.9" fill="#ea9b24"/>
<circle cx="80.40" cy="299.90" r="1.9" fill="#ea9b24"/>
<circle cx="92.20" cy="303.50" r="1.9" fill="#ea9b24"/>
<circle cx="104.30" cy="309.10" r="1.9" fill="#ea9b24"/>
<polyline points="56.30,309.90 68.40,311.20 80.40,306.70 92.20,300.60 104.30,292.50 116.40,279.20 128.20,253.50" fill="none" stroke="#4452aa" stroke-width="1.5" stroke-linejoin="round"/>
<circle cx="56.30" cy="309.90" r="2.0" fill="#4452aa"/>
<circle cx="68.40" cy="311.20" r="2.0" fill="#4452aa"/>
<circle cx="80.40" cy="306.70" r="2.0" fill="#4452aa"/>
<circle cx="92.20" cy="300.60" r="2.0" fill="#4452aa"/>
<circle cx="104.30" cy="292.50" r="2.0" fill="#4452aa"/>
<circle cx="116.40" cy="279.20" r="2.0" fill="#4452aa"/>
<circle cx="128.20" cy="253.50" r="2.0" fill="#4452aa"/>
<polyline points="178.20,274.40 190.40,286.10 202.30,287.80 214.20,288.50 226.00,293.40 237.90,296.40" fill="none" stroke="#ea9b24" stroke-width="1.35" stroke-linejoin="round"/>
<circle cx="178.20" cy="274.40" r="1.9" fill="#ea9b24"/>
<circle cx="190.40" cy="286.10" r="1.9" fill="#ea9b24"/>
<circle cx="202.30" cy="287.80" r="1.9" fill="#ea9b24"/>
<circle cx="214.20" cy="288.50" r="1.9" fill="#ea9b24"/>
<circle cx="226.00" cy="293.40" r="1.9" fill="#ea9b24"/>
<circle cx="237.90" cy="296.40" r="1.9" fill="#ea9b24"/>
<polyline points="178.20,301.30 190.40,295.20 202.30,293.10 214.20,292.50 226.00,270.00 237.90,257.70 250.00,253.30" fill="none" stroke="#4452aa" stroke-width="1.5" stroke-linejoin="round"/>
<circle cx="178.20" cy="301.30" r="2.0" fill="#4452aa"/>
<circle cx="190.40" cy="295.20" r="2.0" fill="#4452aa"/>
<circle cx="202.30" cy="293.10" r="2.0" fill="#4452aa"/>
<circle cx="214.20" cy="292.50" r="2.0" fill="#4452aa"/>
<circle cx="226.00" cy="270.00" r="2.0" fill="#4452aa"/>
<circle cx="237.90" cy="257.70" r="2.0" fill="#4452aa"/>
<circle cx="250.00" cy="253.30" r="2.0" fill="#4452aa"/>
<polyline points="311.80,290.40 324.00,297.70 335.80,289.60 347.90,297.30" fill="none" stroke="#ea9b24" stroke-width="1.35" stroke-linejoin="round"/>
<circle cx="311.80" cy="290.40" r="1.9" fill="#ea9b24"/>
<circle cx="324.00" cy="297.70" r="1.9" fill="#ea9b24"/>
<circle cx="335.80" cy="289.60" r="1.9" fill="#ea9b24"/>
<circle cx="347.90" cy="297.30" r="1.9" fill="#ea9b24"/>
<polyline points="311.80,310.20 324.00,299.30 335.80,283.90 347.90,284.70 359.70,265.00" fill="none" stroke="#4452aa" stroke-width="1.5" stroke-linejoin="round"/>
<circle cx="311.80" cy="310.20" r="2.0" fill="#4452aa"/>
<circle cx="324.00" cy="299.30" r="2.0" fill="#4452aa"/>
<circle cx="335.80" cy="283.90" r="2.0" fill="#4452aa"/>
<circle cx="347.90" cy="284.70" r="2.0" fill="#4452aa"/>
<circle cx="359.70" cy="265.00" r="2.0" fill="#4452aa"/>
<polyline points="433.60,306.20 445.70,302.60 457.50,303.70 469.50,289.70" fill="none" stroke="#ea9b24" stroke-width="1.35" stroke-linejoin="round"/>
<circle cx="433.60" cy="306.20" r="1.9" fill="#ea9b24"/>
<circle cx="445.70" cy="302.60" r="1.9" fill="#ea9b24"/>
<circle cx="457.50" cy="303.70" r="1.9" fill="#ea9b24"/>
<circle cx="469.50" cy="289.70" r="1.9" fill="#ea9b24"/>
<polyline points="433.60,317.50 445.70,305.40 457.50,304.60 469.50,279.60 481.60,258.30" fill="none" stroke="#4452aa" stroke-width="1.5" stroke-linejoin="round"/>
<circle cx="433.60" cy="317.50" r="2.0" fill="#4452aa"/>
<circle cx="445.70" cy="305.40" r="2.0" fill="#4452aa"/>
<circle cx="457.50" cy="304.60" r="2.0" fill="#4452aa"/>
<circle cx="469.50" cy="279.60" r="2.0" fill="#4452aa"/>
<circle cx="481.60" cy="258.30" r="2.0" fill="#4452aa"/>
<line x1="553.50" y1="23.10" x2="553.50" y2="150.30" stroke="#8f8d8f" stroke-width="1.15" />
<line x1="656.50" y1="23.10" x2="656.50" y2="150.30" stroke="#8f8d8f" stroke-width="1.15" />
<line x1="553.50" y1="150.30" x2="656.50" y2="150.30" stroke="#8f8d8f" stroke-width="1.15" />
<line x1="548.50" y1="30.20" x2="553.50" y2="30.20" stroke="#8f8d8f" stroke-width="1.15" />
<text transform="translate(545.10,33.05) scale(1,1.02)" text-anchor="end" font-size="8.0" fill="#231f20" >0.06</text>
<line x1="548.50" y1="56.20" x2="553.50" y2="56.20" stroke="#8f8d8f" stroke-width="1.15" />
<line x1="548.50" y1="82.10" x2="553.50" y2="82.10" stroke="#8f8d8f" stroke-width="1.15" />
<line x1="548.50" y1="108.10" x2="553.50" y2="108.10" stroke="#8f8d8f" stroke-width="1.15" />
<line x1="548.50" y1="134.00" x2="553.50" y2="134.00" stroke="#8f8d8f" stroke-width="1.15" />
<text transform="translate(545.10,136.85) scale(1,1.02)" text-anchor="end" font-size="8.0" fill="#231f20" >−0.02</text>
<line x1="656.50" y1="47.80" x2="661.10" y2="47.80" stroke="#c4c2c4" stroke-width="1.15" />
<text transform="translate(664.10,50.65) scale(1,1.02)" text-anchor="start" font-size="8.0" fill="#231f20" >−2</text>
<line x1="656.50" y1="78.00" x2="661.10" y2="78.00" stroke="#c4c2c4" stroke-width="1.15" />
<line x1="656.50" y1="108.10" x2="661.10" y2="108.10" stroke="#c4c2c4" stroke-width="1.15" />
<line x1="656.50" y1="138.40" x2="661.10" y2="138.40" stroke="#8f8d8f" stroke-width="1.15" />
<text transform="translate(664.10,141.25) scale(1,1.02)" text-anchor="start" font-size="8.0" fill="#231f20" >1</text>
<line x1="574.20" y1="150.30" x2="574.20" y2="155.30" stroke="#8f8d8f" stroke-width="1.15" />
<text transform="translate(574.20,165.10) scale(1,1.02)" text-anchor="middle" font-size="8.0" fill="#231f20" >1</text>
<line x1="594.40" y1="150.30" x2="594.40" y2="155.30" stroke="#8f8d8f" stroke-width="1.15" />
<text transform="translate(594.40,165.10) scale(1,1.02)" text-anchor="middle" font-size="8.0" fill="#231f20" >2</text>
<line x1="615.10" y1="150.30" x2="615.10" y2="155.30" stroke="#8f8d8f" stroke-width="1.15" />
<text transform="translate(615.10,165.10) scale(1,1.02)" text-anchor="middle" font-size="8.0" fill="#231f20" >3</text>
<line x1="635.60" y1="150.30" x2="635.60" y2="155.30" stroke="#8f8d8f" stroke-width="1.15" />
<text transform="translate(635.60,165.10) scale(1,1.02)" text-anchor="middle" font-size="8.0" fill="#231f20" >4</text>
<text transform="translate(607.20,175.80) scale(1,1.02)" text-anchor="middle" font-size="8.0" fill="#231f20" >Number of synapses</text>
<text transform="translate(542.00,10.90) scale(1,1.02)" text-anchor="middle" font-size="8.0" fill="#231f20" >More</text>
<text transform="translate(541.80,19.60) scale(1,1.02)" text-anchor="middle" font-size="8.0" fill="#231f20" >similar</text>
<text transform="translate(668.00,10.90) scale(1,1.02)" text-anchor="middle" font-size="8.0" fill="#231f20" >More</text>
<text transform="translate(667.80,19.60) scale(1,1.02)" text-anchor="middle" font-size="8.0" fill="#231f20" >similar</text>
<text transform="translate(542.20,151.80) scale(1,1.02)" text-anchor="middle" font-size="8.0" fill="#231f20" >Less</text>
<text transform="translate(542.10,160.50) scale(1,1.02)" text-anchor="middle" font-size="8.0" fill="#231f20" >similar</text>
<text transform="translate(668.00,151.80) scale(1,1.02)" text-anchor="middle" font-size="8.0" fill="#231f20" >Less</text>
<text transform="translate(668.10,160.50) scale(1,1.02)" text-anchor="middle" font-size="8.0" fill="#231f20" >similar</text>
<text transform="translate(558.50,32.10) scale(1,1.02)" text-anchor="start" font-size="8.0" fill="#ea9b24" >NS</text>
<polygon points="560.30,35.95 560.68,36.87 561.68,36.95 560.92,37.60 561.15,38.57 560.30,38.05 559.45,38.57 559.68,37.60 558.92,36.95 559.92,36.87" fill="#4452aa"/>
<polygon points="564.10,35.95 564.48,36.87 565.48,36.95 564.72,37.60 564.95,38.57 564.10,38.05 563.25,38.57 563.48,37.60 562.72,36.95 563.72,36.87" fill="#4452aa"/>
<line x1="563.70" y1="110.60" x2="646.60" y2="95.10" stroke="#ea9b24" stroke-width="1.0" stroke-dasharray="2.6,1.6"/>
<line x1="563.70" y1="115.40" x2="646.60" y2="66.50" stroke="#4452aa" stroke-width="0.85" stroke-dasharray="2.4,1.3"/>
<g stroke="#ea9b24" stroke-width="1.4" opacity="1.0"><line x1="574.1" y1="107.2" x2="574.1" y2="111.3"/><line x1="569.8000000000001" y1="107.2" x2="578.4" y2="107.2"/><line x1="569.8000000000001" y1="111.3" x2="578.4" y2="111.3"/></g>
<circle cx="574.1" cy="109.5" r="2.2" fill="#ea9b24" opacity="1.0"/>
<g stroke="#ea9b24" stroke-width="1.4" opacity="1.0"><line x1="594.5" y1="88.9" x2="594.5" y2="101.2"/><line x1="590.2" y1="88.9" x2="598.8" y2="88.9"/><line x1="590.2" y1="101.2" x2="598.8" y2="101.2"/></g>
<circle cx="594.5" cy="95.0" r="2.2" fill="#ea9b24" opacity="1.0"/>
<g stroke="#ea9b24" stroke-width="1.4" opacity="1.0"><line x1="615.1" y1="108.1" x2="615.1" y2="139.3"/><line x1="610.8000000000001" y1="108.1" x2="619.4" y2="108.1"/><line x1="610.8000000000001" y1="139.3" x2="619.4" y2="139.3"/></g>
<circle cx="615.1" cy="123.9" r="2.2" fill="#ea9b24" opacity="1.0"/>
<g stroke="#ea9b24" stroke-width="1.4" opacity="1.0"><line x1="635.8" y1="79.9" x2="635.8" y2="130.3"/><line x1="631.5" y1="79.9" x2="640.0999999999999" y2="79.9"/><line x1="631.5" y1="130.3" x2="640.0999999999999" y2="130.3"/></g>
<circle cx="635.8" cy="105.1" r="2.2" fill="#ea9b24" opacity="1.0"/>
<g stroke="#4452aa" stroke-width="1.4" opacity="0.92"><line x1="574.1" y1="107.5" x2="574.1" y2="111.6"/><line x1="569.8000000000001" y1="107.5" x2="578.4" y2="107.5"/><line x1="569.8000000000001" y1="111.6" x2="578.4" y2="111.6"/></g>
<circle cx="574.1" cy="109.6" r="2.2" fill="#4452aa" opacity="0.92"/>
<g stroke="#4452aa" stroke-width="1.4" opacity="0.92"><line x1="594.5" y1="81.6" x2="594.5" y2="94.8"/><line x1="590.2" y1="81.6" x2="598.8" y2="81.6"/><line x1="590.2" y1="94.8" x2="598.8" y2="94.8"/></g>
<circle cx="594.5" cy="88.2" r="2.2" fill="#4452aa" opacity="0.92"/>
<g stroke="#4452aa" stroke-width="1.4" opacity="0.92"><line x1="615.1" y1="78.6" x2="615.1" y2="116.2"/><line x1="610.8000000000001" y1="78.6" x2="619.4" y2="78.6"/><line x1="610.8000000000001" y1="116.2" x2="619.4" y2="116.2"/></g>
<circle cx="615.1" cy="97.2" r="2.2" fill="#4452aa" opacity="0.92"/>
<g stroke="#4452aa" stroke-width="1.4" opacity="0.92"><line x1="636.0" y1="26.9" x2="636.0" y2="91.8"/><line x1="631.7" y1="26.9" x2="640.3" y2="26.9"/><line x1="631.7" y1="91.8" x2="640.3" y2="91.8"/></g>
<circle cx="636.0" cy="59.3" r="2.2" fill="#4452aa" opacity="0.92"/>
<text transform="translate(514.00,101.40) rotate(-90) scale(1,1.02)" text-anchor="start" font-size="8.0" fill="#231f20" >Residual</text>
<circle cx="511.6" cy="107.3" r="1.5" fill="#4452aa"/>
<text transform="translate(524.90,86.40) rotate(-90) scale(1,1.02)" text-anchor="middle" font-size="8.0" fill="#231f20" >feature weight similarity</text>
<text transform="translate(684.80,121.00) rotate(-90) scale(1,1.02)" text-anchor="start" font-size="8.0" fill="#231f20" >Residual RF distance</text>
<circle cx="681.8" cy="126.0" r="1.5" fill="#ea9b24"/>
<line x1="553.50" y1="201.00" x2="553.50" y2="329.60" stroke="#8f8d8f" stroke-width="1.15" />
<line x1="662.40" y1="201.00" x2="662.40" y2="329.60" stroke="#8f8d8f" stroke-width="1.15" />
<line x1="553.50" y1="329.60" x2="662.40" y2="329.60" stroke="#8f8d8f" stroke-width="1.15" />
<line x1="548.50" y1="218.60" x2="553.50" y2="218.60" stroke="#8f8d8f" stroke-width="1.15" />
<text transform="translate(545.10,221.45) scale(1,1.02)" text-anchor="end" font-size="8.0" fill="#231f20" >0.04</text>
<line x1="548.50" y1="241.80" x2="553.50" y2="241.80" stroke="#8f8d8f" stroke-width="1.15" />
<line x1="548.50" y1="265.10" x2="553.50" y2="265.10" stroke="#8f8d8f" stroke-width="1.15" />
<line x1="548.50" y1="288.30" x2="553.50" y2="288.30" stroke="#8f8d8f" stroke-width="1.15" />
<line x1="548.50" y1="312.30" x2="553.50" y2="312.30" stroke="#8f8d8f" stroke-width="1.15" />
<text transform="translate(545.10,315.15) scale(1,1.02)" text-anchor="end" font-size="8.0" fill="#231f20" >−0.04</text>
<line x1="662.40" y1="210.40" x2="666.80" y2="210.40" stroke="#8f8d8f" stroke-width="1.15" />
<text transform="translate(670.20,213.25) scale(1,1.02)" text-anchor="start" font-size="8.0" fill="#231f20" >−2</text>
<line x1="662.40" y1="238.10" x2="666.80" y2="238.10" stroke="#c4c2c4" stroke-width="1.15" />
<line x1="662.40" y1="265.40" x2="666.80" y2="265.40" stroke="#8f8d8f" stroke-width="1.15" />
<line x1="662.40" y1="292.60" x2="666.80" y2="292.60" stroke="#8f8d8f" stroke-width="1.15" />
<line x1="662.40" y1="319.40" x2="666.80" y2="319.40" stroke="#8f8d8f" stroke-width="1.15" />
<text transform="translate(670.20,322.25) scale(1,1.02)" text-anchor="start" font-size="8.0" fill="#231f20" >2</text>
<line x1="553.60" y1="329.60" x2="553.60" y2="334.00" stroke="#8f8d8f" stroke-width="1.15" />
<text transform="translate(553.60,343.10) scale(1,1.02)" text-anchor="middle" font-size="8.0" fill="#231f20" >2</text>
<line x1="587.50" y1="329.60" x2="587.50" y2="334.00" stroke="#8f8d8f" stroke-width="1.15" />
<text transform="translate(587.50,343.10) scale(1,1.02)" text-anchor="middle" font-size="8.0" fill="#231f20" >3</text>
<line x1="621.50" y1="329.60" x2="621.50" y2="334.00" stroke="#8f8d8f" stroke-width="1.15" />
<text transform="translate(621.50,343.10) scale(1,1.02)" text-anchor="middle" font-size="8.0" fill="#231f20" >4</text>
<line x1="655.40" y1="329.60" x2="655.40" y2="334.00" stroke="#8f8d8f" stroke-width="1.15" />
<text transform="translate(655.40,343.10) scale(1,1.02)" text-anchor="middle" font-size="8.0" fill="#231f20" >5</text>
<text transform="translate(607.6,354.3) scale(1,1.02)" text-anchor="middle" font-size="8.0" fill="#231f20">log<tspan dy="2.2" font-size="5.6">10</tspan><tspan dy="-2.2">(mean cleft volume)</tspan></text>
<text transform="translate(558.70,208.40) scale(1,1.02)" text-anchor="start" font-size="8.0" fill="#ea9b24" >NS</text>
<polygon points="560.50,212.10 560.96,213.22 562.16,213.31 561.24,214.09 561.53,215.27 560.50,214.63 559.47,215.27 559.76,214.09 558.84,213.31 560.04,213.22" fill="#4452aa"/>
<polygon points="564.40,212.10 564.86,213.22 566.06,213.31 565.14,214.09 565.43,215.27 564.40,214.63 563.37,215.27 563.66,214.09 562.74,213.31 563.94,213.22" fill="#4452aa"/>
<polygon points="568.30,212.10 568.76,213.22 569.96,213.31 569.04,214.09 569.33,215.27 568.30,214.63 567.27,215.27 567.56,214.09 566.64,213.31 567.84,213.22" fill="#4452aa"/>
<line x1="562.10" y1="259.90" x2="646.60" y2="268.40" stroke="#ea9b24" stroke-width="1.0" stroke-dasharray="2.6,1.6"/>
<line x1="562.10" y1="310.40" x2="646.60" y2="234.40" stroke="#4452aa" stroke-width="0.85" stroke-dasharray="2.4,1.3"/>
<g stroke="#ea9b24" stroke-width="1.4" opacity="1.0"><line x1="569.1" y1="243.2" x2="569.1" y2="259.6"/><line x1="564.8000000000001" y1="243.2" x2="573.4" y2="243.2"/><line x1="564.8000000000001" y1="259.6" x2="573.4" y2="259.6"/></g>
<circle cx="569.1" cy="251.3" r="2.2" fill="#ea9b24" opacity="1.0"/>
<g stroke="#ea9b24" stroke-width="1.4" opacity="1.0"><line x1="586.8" y1="254.2" x2="586.8" y2="263.6"/><line x1="582.5" y1="254.2" x2="591.0999999999999" y2="254.2"/><line x1="582.5" y1="263.6" x2="591.0999999999999" y2="263.6"/></g>
<circle cx="586.8" cy="259.1" r="2.2" fill="#ea9b24" opacity="1.0"/>
<g stroke="#ea9b24" stroke-width="1.4" opacity="1.0"><line x1="604.6" y1="264.4" x2="604.6" y2="269.3"/><line x1="600.3000000000001" y1="264.4" x2="608.9" y2="264.4"/><line x1="600.3000000000001" y1="269.3" x2="608.9" y2="269.3"/></g>
<circle cx="604.6" cy="266.8" r="2.2" fill="#ea9b24" opacity="1.0"/>
<g stroke="#ea9b24" stroke-width="1.4" opacity="1.0"><line x1="621.9" y1="265.2" x2="621.9" y2="269.6"/><line x1="617.6" y1="265.2" x2="626.1999999999999" y2="265.2"/><line x1="617.6" y1="269.6" x2="626.1999999999999" y2="269.6"/></g>
<circle cx="621.9" cy="267.2" r="2.2" fill="#ea9b24" opacity="1.0"/>
<g stroke="#ea9b24" stroke-width="1.4" opacity="1.0"><line x1="639.7" y1="258.8" x2="639.7" y2="267.6"/><line x1="635.4000000000001" y1="258.8" x2="644.0" y2="258.8"/><line x1="635.4000000000001" y1="267.6" x2="644.0" y2="267.6"/></g>
<circle cx="639.7" cy="263.1" r="2.2" fill="#ea9b24" opacity="1.0"/>
<g stroke="#4452aa" stroke-width="1.4" opacity="0.92"><line x1="569.1" y1="285.3" x2="569.1" y2="301.8"/><line x1="564.8000000000001" y1="285.3" x2="573.4" y2="285.3"/><line x1="564.8000000000001" y1="301.8" x2="573.4" y2="301.8"/></g>
<circle cx="569.1" cy="293.7" r="2.2" fill="#4452aa" opacity="0.92"/>
<g stroke="#4452aa" stroke-width="1.4" opacity="0.92"><line x1="586.8" y1="274.5" x2="586.8" y2="284.2"/><line x1="582.5" y1="274.5" x2="591.0999999999999" y2="274.5"/><line x1="582.5" y1="284.2" x2="591.0999999999999" y2="284.2"/></g>
<circle cx="586.8" cy="279.5" r="2.2" fill="#4452aa" opacity="0.92"/>
<g stroke="#4452aa" stroke-width="1.4" opacity="0.92"><line x1="604.6" y1="274.6" x2="604.6" y2="280.1"/><line x1="600.3000000000001" y1="274.6" x2="608.9" y2="274.6"/><line x1="600.3000000000001" y1="280.1" x2="608.9" y2="280.1"/></g>
<circle cx="604.6" cy="277.3" r="2.2" fill="#4452aa" opacity="0.92"/>
<g stroke="#4452aa" stroke-width="1.4" opacity="0.92"><line x1="621.9" y1="251.0" x2="621.9" y2="256.7"/><line x1="617.6" y1="251.0" x2="626.1999999999999" y2="251.0"/><line x1="617.6" y1="256.7" x2="626.1999999999999" y2="256.7"/></g>
<circle cx="621.9" cy="253.9" r="2.2" fill="#4452aa" opacity="0.92"/>
<g stroke="#4452aa" stroke-width="1.4" opacity="0.92"><line x1="639.7" y1="238.9" x2="639.7" y2="246.6"/><line x1="635.4000000000001" y1="238.9" x2="644.0" y2="238.9"/><line x1="635.4000000000001" y1="246.6" x2="644.0" y2="246.6"/></g>
<circle cx="639.7" cy="242.6" r="2.2" fill="#4452aa" opacity="0.92"/>
<text transform="translate(514.00,279.80) rotate(-90) scale(1,1.02)" text-anchor="start" font-size="8.0" fill="#231f20" >Residual</text>
<circle cx="511.9" cy="285.9" r="1.5" fill="#4452aa"/>
<text transform="translate(524.90,265.30) rotate(-90) scale(1,1.02)" text-anchor="middle" font-size="8.0" fill="#231f20" >feature weight similarity</text>
<text transform="translate(684.80,298.80) rotate(-90) scale(1,1.02)" text-anchor="start" font-size="8.0" fill="#231f20" >Residual RF distance</text>
<circle cx="681.8" cy="304.3" r="1.5" fill="#ea9b24"/>
</svg>
</body></html>
